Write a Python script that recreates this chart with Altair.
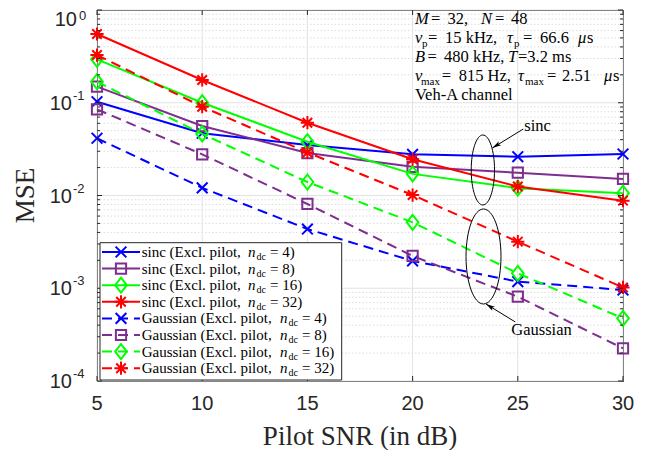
import altair as alt
import pandas as pd

# ------------------------------------------------------------------ data
snr_db = [5, 10, 15, 20, 25, 30]

mse_sinc_4 = [0.1026, 0.0469, 0.0350, 0.0278, 0.0262, 0.0280]
mse_sinc_8 = [0.149, 0.0561, 0.0287, 0.0204, 0.0176, 0.0151]
mse_sinc_16 = [0.294, 0.1001, 0.0380, 0.0171, 0.0120, 0.0106]
mse_sinc_32 = [0.551, 0.176, 0.0609, 0.0246, 0.0125, 0.0088]
mse_gauss_4 = [0.0414, 0.0121, 0.00435, 0.00197, 0.00118, 0.000957]
mse_gauss_8 = [0.0850, 0.0278, 0.00810, 0.00223, 0.000811, 0.000225]
mse_gauss_16 = [0.1686, 0.0461, 0.01398, 0.00514, 0.00145, 0.000474]
mse_gauss_32 = [0.327, 0.0907, 0.0291, 0.01012, 0.00318, 0.00102]

all_series = [mse_sinc_4, mse_sinc_8, mse_sinc_16, mse_sinc_32,
              mse_gauss_4, mse_gauss_8, mse_gauss_16, mse_gauss_32]
pulse_names = ["sinc", "sinc", "sinc", "sinc",
               "Gaussian", "Gaussian", "Gaussian", "Gaussian"]
n_dc_values = ["4", "8", "16", "32", "4", "8", "16", "32"]

x_tick_values = [5, 10, 15, 20, 25, 30]
y_decade_values = [1e-4, 1e-3, 1e-2, 1e-1, 1.0]
y_decade_exps = ["-4", "-3", "-2", "-1", "0"]
y_minor_values = [m * 10.0 ** e for e in range(-4, 0) for m in range(2, 10)]

# ------------------------------------------------------------------ styles
W, H = 526, 371
SERIF = "Liberation Serif"
SANS = "Liberation Sans"
AX = "#262626"
colors = ["#0000FF", "#7E2F8E", "#00FF00", "#FF0000"]
CROSS = "M-1,-1L1,1M-1,1L1,-1"
SQUARE = "M-1,-1L1,-1L1,1L-1,1Z"
DIAMOND = "M0,-1L0.78,0L0,1L-0.78,0Z"
STAR = "M-1,0L1,0M0,-1L0,1M-0.72,-0.72L0.72,0.72M-0.72,0.72L0.72,-0.72"
shapes = [CROSS, SQUARE, DIAMOND, STAR]
shape_sizes = [115, 105, 225, 175]
DASH = [10, 6]

xs = alt.Scale(domain=[5, 30], nice=False, zero=False)
ys = alt.Scale(type="log", domain=[1e-4, 1], nice=False)


def X(f):
    return alt.X(f, type="quantitative", scale=xs, axis=None)


def Y(f):
    return alt.Y(f, type="quantitative", scale=ys, axis=None)


def txt(s, x, y, size, style="normal", font=SERIF, align="left",
        baseline="alphabetic", color="black", angle=0):
    kw = dict(align=align, baseline=baseline, font=font, fontSize=size,
              fontStyle=style, color=color)
    if angle:
        kw["angle"] = angle
    return alt.Chart(pd.DataFrame({"t": [s]})).mark_text(**kw).encode(
        text="t:N", x=alt.value(x), y=alt.value(y))


layers = []

# ------------------------------------------------------------------ grid
layers.append(alt.Chart(pd.DataFrame({"v": y_minor_values})).mark_rule(
    color="#d4d4d4", strokeWidth=0.8, strokeDash=[1.5, 2]).encode(y=Y("v")))
layers.append(alt.Chart(pd.DataFrame({"v": x_tick_values})).mark_rule(
    color="#e2e2e2", strokeWidth=1).encode(x=X("v")))
layers.append(alt.Chart(pd.DataFrame({"v": y_decade_values})).mark_rule(
    color="#e2e2e2", strokeWidth=1).encode(y=Y("v")))

# ------------------------------------------------------------------ series
for i, vals in enumerate(all_series):
    df = pd.DataFrame({"x": snr_db, "y": vals})
    c = colors[i % 4]
    lkw = dict(color=c, strokeWidth=2)
    if i >= 4:
        lkw["strokeDash"] = DASH
    layers.append(alt.Chart(df).mark_line(**lkw).encode(x=X("x"), y=Y("y")))
    layers.append(alt.Chart(df).mark_point(
        shape=shapes[i % 4], size=shape_sizes[i % 4], color=c, filled=False,
        strokeWidth=2, opacity=1).encode(x=X("x"), y=Y("y")))

# ------------------------------------------------------------------ ticks (inward)
tx = pd.DataFrame({"v": x_tick_values})
layers.append(alt.Chart(tx).mark_rule(color=AX).encode(
    x=X("v"), y=alt.value(H), y2=alt.value(H - 5)))
layers.append(alt.Chart(tx).mark_rule(color=AX).encode(
    x=X("v"), y=alt.value(0), y2=alt.value(5)))
ty = pd.DataFrame({"v": y_decade_values})
tm = pd.DataFrame({"v": y_minor_values})
layers.append(alt.Chart(ty).mark_rule(color=AX).encode(
    y=Y("v"), x=alt.value(0), x2=alt.value(5)))
layers.append(alt.Chart(ty).mark_rule(color=AX).encode(
    y=Y("v"), x=alt.value(W), x2=alt.value(W - 5)))
layers.append(alt.Chart(tm).mark_rule(color=AX).encode(
    y=Y("v"), x=alt.value(0), x2=alt.value(3)))
layers.append(alt.Chart(tm).mark_rule(color=AX).encode(
    y=Y("v"), x=alt.value(W), x2=alt.value(W - 3)))

# ------------------------------------------------------------------ axis labels
layers.append(alt.Chart(pd.DataFrame({"v": x_tick_values,
                                      "t": [str(v) for v in x_tick_values]}))
              .mark_text(font=SANS, fontSize=20, color=AX, baseline="middle")
              .encode(x=X("v"), y=alt.value(394), text="t:N"))
ylab = pd.DataFrame({"v": y_decade_values, "e": y_decade_exps,
                     "b": ["10"] * 5})
ylab_neg = ylab[ylab["e"] != "0"]
ylab_zero = ylab[ylab["e"] == "0"]
layers.append(alt.Chart(ylab_neg).mark_text(
    font=SANS, fontSize=20, color=AX, align="right", baseline="middle", dy=1)
    .encode(y=Y("v"), x=alt.value(-25), text="b:N"))
layers.append(alt.Chart(ylab_neg).mark_text(
    font=SANS, fontSize=13, color=AX, align="left", baseline="middle", dy=-7)
    .encode(y=Y("v"), x=alt.value(-24), text="e:N"))
layers.append(alt.Chart(ylab_zero).mark_text(
    font=SANS, fontSize=20, color=AX, align="right", baseline="middle", dy=10)
    .encode(y=Y("v"), x=alt.value(-20), text="b:N"))
layers.append(alt.Chart(ylab_zero).mark_text(
    font=SANS, fontSize=13, color=AX, align="left", baseline="middle", dy=6)
    .encode(y=Y("v"), x=alt.value(-18), text="e:N"))

layers.append(txt("Pilot SNR (in dB)", 263, 435, 27, align="center", color=AX))
layers.append(txt("MSE", -71, 185.5, 27, align="center", baseline="middle",
                  color=AX, angle=270))

# ------------------------------------------------------------------ legend
layers.append(alt.Chart(pd.DataFrame({"k": [0]})).mark_rect(
    fill="white", stroke=AX, strokeWidth=1).encode(
    x=alt.value(3), x2=alt.value(244.7), y=alt.value(232.7), y2=alt.value(370)))
for i in range(8):
    yr = 242 + 16.6 * i
    c = colors[i % 4]
    rkw = dict(color=c, strokeWidth=2)
    if i >= 4:
        rkw["strokeDash"] = DASH
    layers.append(alt.Chart(pd.DataFrame({"k": [0]})).mark_rule(**rkw).encode(
        x=alt.value(5), x2=alt.value(43), y=alt.value(yr)))
    layers.append(alt.Chart(pd.DataFrame({"k": [0]})).mark_point(
        shape=shapes[i % 4], size=shape_sizes[i % 4], color=c, filled=False,
        strokeWidth=2, opacity=1).encode(x=alt.value(24), y=alt.value(yr)))
    nx = 151 if i < 4 else 183
    base = yr + 5
    layers.append(txt(pulse_names[i] + " (Excl. pilot,", 44.7, base, 15))
    layers.append(txt("n", nx, base, 15, style="italic"))
    layers.append(txt("dc", nx + 8.5, base + 3, 10))
    layers.append(txt("= " + n_dc_values[i] + ")", nx + 22, base, 15))

# ------------------------------------------------------------------ parameter box
info = [
    ("M", 318, 14, "it"), ("=", 334, 14, "rm"), ("32,", 350.5, 14, "rm"),
    ("N", 384, 14, "it"), ("=", 398, 14, "rm"), ("48", 414, 14, "rm"),
    ("\u03bd", 318, 33, "it"), ("p", 325, 33, "sub"), ("=", 331, 33, "rm"),
    ("15 kHz,", 348, 33, "rm"),
    ("\u03c4", 410, 33, "it"), ("p", 417, 33, "sub"), ("=", 426, 33, "rm"),
    ("66.6", 443, 33, "rm"), ("\u03bc", 481, 33, "it"), ("s", 490, 33, "rm"),
    ("B", 318, 52, "it"), ("=", 330.5, 52, "rm"), ("480 kHz,", 347, 52, "rm"),
    ("T", 411, 52, "it"), ("=3.2 ms", 421, 52, "rm"),
    ("\u03bd", 318, 71, "it"), ("max", 324, 71, "sub"), ("=", 344.7, 71, "rm"),
    ("815 Hz,", 361.7, 71, "rm"),
    ("\u03c4", 421, 71, "it"), ("max", 428, 71, "sub"), ("=", 450, 71, "rm"),
    ("2.51", 465, 71, "rm"), ("\u03bc", 507, 71, "it"), ("s", 516, 71, "rm"),
    ("Veh-A channel", 318, 90, "rm"),
]
for s, x, y, st in info:
    if st == "sub":
        layers.append(txt(s, x, y + 3.5, 11))
    elif st == "it":
        layers.append(txt(s, x, y, 16.5, style="italic"))
    else:
        layers.append(txt(s, x, y, 16.5))

# ------------------------------------------------------------------ ellipses & arrows
def ellipse_path(rx):
    k = 0.5523
    a = rx
    return (f"M{a},0 C{a},{k} {k*a:.4f},1 0,1 C{-k*a:.4f},1 {-a},{k} {-a},0 "
            f"C{-a},{-k} {-k*a:.4f},-1 0,-1 C{k*a:.4f},-1 {a},{-k} {a},0 Z")


layers.append(alt.Chart(pd.DataFrame({"x": [23.34], "y": [0.01884]})).mark_point(
    shape=ellipse_path(0.333), size=4900, color="black", filled=False,
    strokeWidth=1, opacity=1).encode(x=X("x"), y=Y("y")))
layers.append(alt.Chart(pd.DataFrame({"x": [23.37], "y": [0.0022]})).mark_point(
    shape=ellipse_path(0.368), size=9025, color="black", filled=False,
    strokeWidth=1, opacity=1).encode(x=X("x"), y=Y("y")))

ARROW = "M0,0L0.42,1.6L0,1.25L-0.42,1.6Z"
arrows = [(25.26, 0.0521, 23.79, 0.0325, 238.5),
          (24.88, 0.000433, 23.49, 0.000676, 302.5)]
for x1, y1, x2, y2, ang in arrows:
    layers.append(alt.Chart(pd.DataFrame({"x": [x1], "y": [y1], "x2": [x2], "y2": [y2]}))
                  .mark_rule(color="black", strokeWidth=1)
                  .encode(x=X("x"), y=Y("y"), x2="x2:Q", y2="y2:Q"))
    layers.append(alt.Chart(pd.DataFrame({"x": [x2], "y": [y2]})).mark_point(
        shape=ARROW, size=125, angle=ang, color="black", filled=True,
        opacity=1).encode(x=X("x"), y=Y("y")))

layers.append(alt.Chart(pd.DataFrame({"x": [25.31], "y": [0.0561], "t": ["sinc"]}))
              .mark_text(font=SERIF, fontSize=16.5, align="left", baseline="middle",
                         color="black")
              .encode(x=X("x"), y=Y("y"), text="t:N"))
layers.append(alt.Chart(pd.DataFrame({"x": [24.69], "y": [0.000355], "t": ["Gaussian"]}))
              .mark_text(font=SERIF, fontSize=16.5, align="left", baseline="middle",
                         color="black")
              .encode(x=X("x"), y=Y("y"), text="t:N"))

chart = alt.layer(*layers).properties(
    width=W, height=H,
    padding={"left": 89, "top": 2, "right": 24, "bottom": 69},
    autosize=alt.AutoSizeParams(type="none"),
    background="white",
).configure_view(stroke=AX, strokeWidth=1)

chart.save("out.html", embed_options={"renderer": "svg", "actions": False})
